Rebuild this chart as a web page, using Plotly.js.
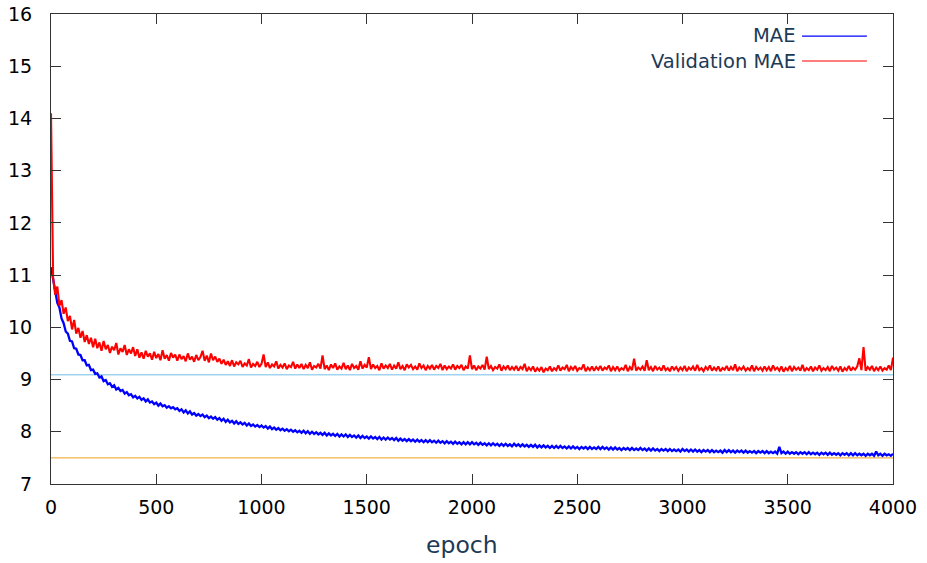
<!DOCTYPE html>
<html>
<head>
<meta charset="utf-8">
<script src="https://cdn.plot.ly/plotly-3.0.1.min.js"></script>
<style>html,body{margin:0;padding:0;background:#fff;}#chart{width:927px;height:563px;}</style>
</head>
<body>
<div id="chart"></div>
<script>
// Epoch step between the sampled values below
const epochStep = 10;

const maeValues = [
  11.15,10.92,10.74,10.47,10.38,10.17,10.08,9.92,9.88,9.74,9.73,9.60,9.59,9.48,9.47,9.37,9.37,9.27,9.28,9.18,
  9.19,9.11,9.12,9.04,9.06,8.97,8.99,8.91,8.93,8.86,8.89,8.81,8.84,8.78,8.80,8.73,8.76,8.70,8.72,8.66,
  8.69,8.64,8.67,8.61,8.64,8.58,8.62,8.56,8.58,8.53,8.56,8.50,8.54,8.49,8.51,8.46,8.49,8.45,8.47,8.43,
  8.45,8.40,8.43,8.37,8.41,8.35,8.39,8.33,8.36,8.31,8.34,8.30,8.33,8.28,8.31,8.26,8.29,8.25,8.28,8.23,
  8.26,8.21,8.25,8.19,8.23,8.18,8.21,8.16,8.20,8.15,8.18,8.14,8.17,8.12,8.16,8.11,8.14,8.10,8.13,8.09,
  8.12,8.08,8.11,8.06,8.10,8.05,8.08,8.04,8.07,8.03,8.06,8.02,8.05,8.01,8.04,8.00,8.03,7.99,8.02,7.98,
  8.02,7.97,8.01,7.96,8.00,7.96,7.99,7.95,7.98,7.94,7.98,7.93,7.97,7.93,7.96,7.92,7.96,7.91,7.95,7.91,
  7.95,7.90,7.94,7.90,7.93,7.89,7.93,7.88,7.92,7.88,7.91,7.87,7.91,7.87,7.90,7.86,7.90,7.85,7.89,7.85,
  7.89,7.85,7.88,7.84,7.88,7.83,7.87,7.83,7.86,7.82,7.86,7.82,7.85,7.81,7.85,7.81,7.84,7.80,7.84,7.80,
  7.84,7.80,7.83,7.79,7.83,7.79,7.82,7.78,7.82,7.78,7.81,7.77,7.81,7.77,7.80,7.76,7.80,7.76,7.80,7.76,
  7.80,7.76,7.79,7.75,7.79,7.75,7.78,7.74,7.78,7.74,7.78,7.74,7.77,7.73,7.77,7.73,7.77,7.73,7.76,7.72,
  7.77,7.73,7.76,7.72,7.76,7.72,7.75,7.71,7.75,7.71,7.75,7.70,7.74,7.70,7.74,7.70,7.73,7.69,7.73,7.69,
  7.73,7.69,7.73,7.69,7.72,7.68,7.72,7.68,7.72,7.68,7.71,7.67,7.71,7.68,7.71,7.67,7.71,7.67,7.70,7.67,
  7.71,7.67,7.71,7.67,7.70,7.66,7.70,7.66,7.70,7.66,7.69,7.65,7.69,7.66,7.69,7.65,7.69,7.65,7.68,7.65,
  7.69,7.65,7.68,7.64,7.68,7.64,7.68,7.64,7.67,7.63,7.67,7.64,7.67,7.63,7.67,7.63,7.66,7.63,7.66,7.62,
  7.67,7.63,7.66,7.62,7.66,7.62,7.66,7.62,7.65,7.61,7.65,7.62,7.65,7.61,7.65,7.61,7.64,7.61,7.64,7.60,
  7.65,7.61,7.65,7.61,7.64,7.60,7.64,7.61,7.64,7.60,7.64,7.60,7.63,7.60,7.63,7.59,7.63,7.60,7.63,7.59,
  7.63,7.59,7.62,7.59,7.62,7.58,7.71,7.59,7.62,7.58,7.62,7.58,7.61,7.58,7.61,7.57,7.61,7.58,7.61,7.57,
  7.61,7.57,7.60,7.57,7.60,7.56,7.60,7.57,7.60,7.56,7.60,7.56,7.59,7.56,7.59,7.55,7.59,7.56,7.59,7.55,
  7.59,7.55,7.59,7.55,7.58,7.55,7.58,7.54,7.58,7.55,7.58,7.54,7.62,7.55,7.58,7.54,7.58,7.55,7.57,7.54,
  7.58
];

const valMaeValues = [
  14.10,10.95,10.62,10.78,10.41,10.52,10.26,10.38,10.12,10.22,9.96,10.14,9.88,9.99,9.80,9.93,9.72,9.85,9.68,9.80,
  9.62,9.78,9.60,9.71,9.55,9.74,9.58,9.66,9.51,9.63,9.56,9.70,9.48,9.60,9.53,9.66,9.47,9.58,9.50,9.62,
  9.45,9.58,9.42,9.52,9.40,9.55,9.44,9.50,9.38,9.53,9.41,9.49,9.37,9.56,9.40,9.47,9.36,9.51,9.42,9.48,
  9.36,9.48,9.39,9.45,9.35,9.50,9.38,9.44,9.34,9.47,9.37,9.43,9.55,9.36,9.46,9.33,9.50,9.37,9.44,9.34,
  9.40,9.30,9.38,9.28,9.35,9.26,9.37,9.25,9.33,9.29,9.36,9.24,9.31,9.27,9.39,9.23,9.30,9.26,9.34,9.24,
  9.30,9.48,9.24,9.33,9.22,9.29,9.25,9.35,9.21,9.28,9.23,9.31,9.20,9.27,9.24,9.34,9.21,9.29,9.22,9.30,
  9.20,9.28,9.22,9.33,9.19,9.26,9.23,9.30,9.21,9.46,9.20,9.27,9.18,9.29,9.22,9.31,9.19,9.25,9.21,9.32,
  9.20,9.27,9.18,9.30,9.22,9.26,9.19,9.35,9.21,9.28,9.23,9.43,9.20,9.29,9.22,9.26,9.18,9.31,9.21,9.27,
  9.22,9.30,9.19,9.27,9.21,9.33,9.20,9.26,9.18,9.29,9.23,9.28,9.20,9.25,9.19,9.31,9.22,9.27,9.18,9.26,
  9.21,9.28,9.19,9.26,9.22,9.30,9.18,9.27,9.20,9.25,9.21,9.29,9.19,9.26,9.22,9.28,9.18,9.25,9.21,9.46,
  9.20,9.27,9.18,9.25,9.21,9.28,9.19,9.44,9.20,9.26,9.18,9.24,9.21,9.29,9.17,9.25,9.20,9.27,9.18,9.24,
  9.19,9.26,9.17,9.24,9.20,9.30,9.16,9.23,9.18,9.25,9.15,9.22,9.17,9.24,9.14,9.21,9.18,9.25,9.16,9.22,
  9.18,9.27,9.17,9.23,9.20,9.28,9.16,9.24,9.19,9.26,9.17,9.22,9.20,9.29,9.16,9.23,9.18,9.25,9.17,9.24,
  9.19,9.26,9.17,9.23,9.20,9.27,9.16,9.24,9.18,9.25,9.17,9.22,9.19,9.28,9.16,9.24,9.18,9.40,9.17,9.23,
  9.19,9.25,9.17,9.37,9.18,9.24,9.16,9.26,9.19,9.23,9.17,9.27,9.18,9.22,9.16,9.25,9.19,9.24,9.17,9.23,
  9.18,9.26,9.16,9.23,9.19,9.25,9.17,9.28,9.18,9.22,9.16,9.24,9.19,9.27,9.17,9.23,9.18,9.25,9.16,9.22,
  9.19,9.26,9.17,9.24,9.18,9.29,9.16,9.23,9.19,9.25,9.17,9.22,9.18,9.27,9.16,9.24,9.19,9.23,9.17,9.25,
  9.18,9.24,9.16,9.27,9.19,9.23,9.17,9.25,9.15,9.22,9.18,9.26,9.16,9.24,9.19,9.23,9.17,9.28,9.16,9.22,
  9.18,9.25,9.16,9.23,9.19,9.27,9.17,9.22,9.18,9.24,9.16,9.26,9.19,9.23,9.17,9.25,9.15,9.22,9.18,9.26,
  9.17,9.23,9.19,9.25,9.41,9.18,9.62,9.17,9.24,9.19,9.26,9.16,9.23,9.18,9.25,9.17,9.22,9.19,9.27,9.18,
  9.42
];

// Horizontal reference levels
const refLevels = [9.09, 7.5];
const refRange = [0, 4000];

// Tick values
const xTicks = [0, 500, 1000, 1500, 2000, 2500, 3000, 3500, 4000];
const yTicks = [7, 8, 9, 10, 11, 12, 13, 14, 15, 16];

// Labels
const seriesNames = ['MAE', 'Validation MAE'];
const xTitle = 'epoch';

const epochs = maeValues.map((_, i) => i * epochStep);

const traces = [
  {x: refRange, y: [refLevels[0], refLevels[0]], mode: 'lines', line: {color: '#9fd3f0', width: 1.5}, hoverinfo: 'skip'},
  {x: refRange, y: [refLevels[1], refLevels[1]], mode: 'lines', line: {color: '#f2b24a', width: 1.2}, hoverinfo: 'skip'},
  {x: epochs, y: maeValues, name: seriesNames[0], mode: 'lines', line: {color: '#0000ff', width: 2.3}},
  {x: epochs, y: valMaeValues, name: seriesNames[1], mode: 'lines', line: {color: '#ff0000', width: 2.1}}
];

const textColor = '#1d3a55';
const tickFont = {family: 'DejaVu Sans', size: 19, color: '#000'};
const labelFont = {family: 'DejaVu Sans', size: 19.5, color: textColor};

const layout = {
  width: 927, height: 563,
  margin: {l: 50.5, r: 34, t: 14, b: 79, pad: 0},
  paper_bgcolor: '#fff', plot_bgcolor: '#fff',
  showlegend: false,
  xaxis: {
    range: [0, 4000], tickvals: xTicks, ticks: 'inside', ticklen: 10, tickcolor: '#333',
    showline: true, linecolor: '#333', linewidth: 1, mirror: 'ticks', showgrid: false, zeroline: false,
    tickfont: tickFont, ticklabelstandoff: 6
  },
  yaxis: {
    range: [7, 16], tickvals: yTicks, ticks: 'inside', ticklen: 10, tickcolor: '#333',
    showline: true, linecolor: '#333', linewidth: 1, mirror: 'ticks', showgrid: false, zeroline: false,
    tickfont: tickFont, ticklabelstandoff: 14
  },
  shapes: [
    {type: 'line', xref: 'paper', yref: 'paper', x0: 0.892, x1: 0.969, y0: 0.953, y1: 0.953, line: {color: '#0000ff', width: 1.2}},
    {type: 'line', xref: 'paper', yref: 'paper', x0: 0.892, x1: 0.969, y0: 0.9, y1: 0.9, line: {color: '#ff0000', width: 1.2}}
  ],
  annotations: [
    {text: seriesNames[0], xref: 'paper', yref: 'paper', x: 0.887, y: 0.955, xanchor: 'right', yanchor: 'middle', showarrow: false, font: labelFont},
    {text: seriesNames[1], xref: 'paper', yref: 'paper', x: 0.887, y: 0.899, xanchor: 'right', yanchor: 'middle', showarrow: false, font: labelFont},
    {text: xTitle, xref: 'paper', yref: 'paper', x: 0.488, y: -0.13, xanchor: 'center', yanchor: 'middle', showarrow: false, font: {family: 'DejaVu Sans', size: 23.5, color: textColor}}
  ]
};

Plotly.newPlot('chart', traces, layout, {displayModeBar: false, staticPlot: true});
</script>
</body>
</html>
